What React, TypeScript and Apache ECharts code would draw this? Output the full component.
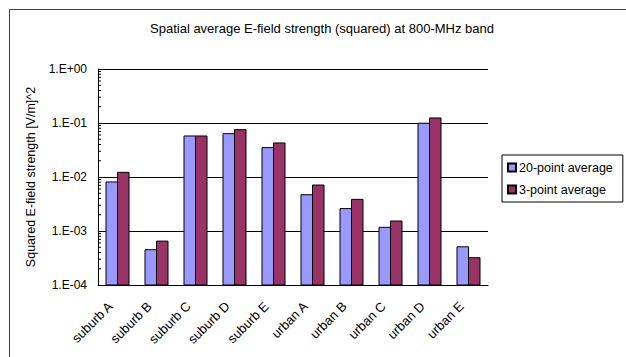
import React, { useEffect, useRef } from "react";
import * as echarts from "echarts";

// Measurement sites along the x axis
const sites = [
  "suburb A", "suburb B", "suburb C", "suburb D", "suburb E",
  "urban A", "urban B", "urban C", "urban D", "urban E",
];

// Squared E-field strength [V/m]^2 per site
const avg20 = [0.0081, 0.00045, 0.0575, 0.0635, 0.035, 0.0047, 0.0026, 0.00117, 0.099, 0.00051];
const avg3 = [0.0122, 0.00065, 0.0575, 0.0753, 0.0427, 0.0071, 0.00385, 0.00153, 0.124, 0.00032];

// Log-axis decade range and the minor tick positions within each decade
const yMin = 1e-4;
const yMax = 1;
const minorTicks: number[] = [];
for (const decade of [1e-4, 1e-3, 1e-2, 1e-1]) {
  for (const m of [2, 3, 4, 5, 6, 7, 8, 9]) minorTicks.push(m * decade);
}

const FONT = "'Liberation Sans', Arial, sans-serif";
const BAR_W = 11.5;

function sciLabel(v: number): string {
  const e = Math.round(Math.log10(v));
  const sign = e < 0 ? "-" : "+";
  const abs = Math.abs(e);
  return `1.E${sign}${abs < 10 ? "0" : ""}${abs}`;
}

// Bars standing on the bottom of the log axis; slot 0 sits left of the
// category centre, slot 1 right of it.
function barRenderer(slot: number, fill: string) {
  return (params: any, api: any) => {
    const idx = api.value(0);
    const v = api.value(1);
    const top = api.coord([idx, v]);
    const base = api.coord([idx, yMin]);
    const x = top[0] + (slot === 0 ? -BAR_W : 0);
    return {
      type: "rect",
      shape: { x, y: top[1], width: BAR_W, height: base[1] - top[1] },
      style: { fill, stroke: "#000", lineWidth: 1 },
    };
  };
}

export default function App() {
  const ref = useRef<HTMLDivElement>(null);

  useEffect(() => {
    if (!ref.current) return;
    const chart = echarts.init(ref.current, null, { renderer: "svg" });
    chart.setOption({
      animation: false,
      backgroundColor: "#ffffff",
      textStyle: { fontFamily: FONT, color: "#000" },
      graphic: [
        {
          type: "rect",
          left: 7,
          top: 7,
          shape: { width: 700, height: 400 },
          style: { fill: "none", stroke: "#404040", lineWidth: 1 },
          silent: true,
          z: -1,
        },
      ],
      title: {
        text: "Spatial average E-field strength (squared) at 800-MHz band",
        left: 317,
        top: 17,
        textAlign: "center",
        textStyle: { fontFamily: FONT, fontSize: 13, fontWeight: "normal", color: "#000" },
      },
      legend: {
        data: ["20-point average", "3-point average"],
        orient: "vertical",
        left: 502,
        top: 155,
        width: 119,
        padding: [6, 10, 6, 5],
        itemWidth: 8,
        itemHeight: 8,
        itemGap: 9,
        icon: "rect",
        borderColor: "#000",
        borderWidth: 1,
        textStyle: { fontFamily: FONT, fontSize: 12.5, color: "#000", padding: [0, 0, 0, -2] },
      },
      grid: { left: 98, right: 138, top: 69, bottom: 72 },
      xAxis: {
        type: "category",
        data: sites,
        axisLine: { lineStyle: { color: "#000", width: 1 } },
        axisTick: { inside: true, length: 4, lineStyle: { color: "#000" } },
        axisLabel: {
          rotate: 45,
          margin: 12,
          padding: [0, 10, 0, 0],
          fontFamily: FONT,
          fontSize: 13,
          color: "#000",
        },
      },
      yAxis: {
        type: "log",
        min: yMin,
        max: yMax,
        logBase: 10,
        name: "Squared E-field strength [V/m]^2",
        nameLocation: "middle",
        nameGap: 58,
        nameRotate: 90,
        nameTextStyle: { fontFamily: FONT, fontSize: 12.5, color: "#000" },
        axisLine: { show: true, lineStyle: { color: "#000", width: 1 } },
        axisTick: { show: true, inside: true, length: 4, lineStyle: { color: "#000" } },
        axisLabel: {
          formatter: (v: number) => sciLabel(v),
          fontFamily: FONT,
          fontSize: 12,
          color: "#000",
          margin: 11,
        },
        splitLine: { show: true, lineStyle: { color: "#000", width: 1 } },
      },
      series: [
        {
          name: "20-point average",
          type: "custom",
          data: avg20.map((v, i) => [i, v]),
          encode: { x: 0, y: 1 },
          itemStyle: { color: "#9999FF", borderColor: "#000", borderWidth: 1 },
          renderItem: barRenderer(0, "#9999FF"),
          z: 3,
        },
        {
          name: "3-point average",
          type: "custom",
          data: avg3.map((v, i) => [i, v]),
          encode: { x: 0, y: 1 },
          itemStyle: { color: "#993366", borderColor: "#000", borderWidth: 1 },
          renderItem: barRenderer(1, "#993366"),
          z: 3,
        },
        {
          // minor log ticks along the inner side of the y axis
          name: "minor",
          type: "custom",
          silent: true,
          data: minorTicks.map((v) => [0, v]),
          encode: { x: 0, y: 1 },
          renderItem: (params: any, api: any) => {
            const y = api.coord([0, api.value(1)])[1];
            const x = params.coordSys.x;
            return {
              type: "line",
              shape: { x1: x, y1: y, x2: x + 3, y2: y },
              style: { stroke: "#000", lineWidth: 1 },
            };
          },
          z: 5,
        },
      ],
    });
    return () => chart.dispose();
  }, []);

  return (
    <div
      ref={ref}
      style={{ position: "fixed", left: 0, top: 0, width: 626, height: 357 }}
    />
  );
}
